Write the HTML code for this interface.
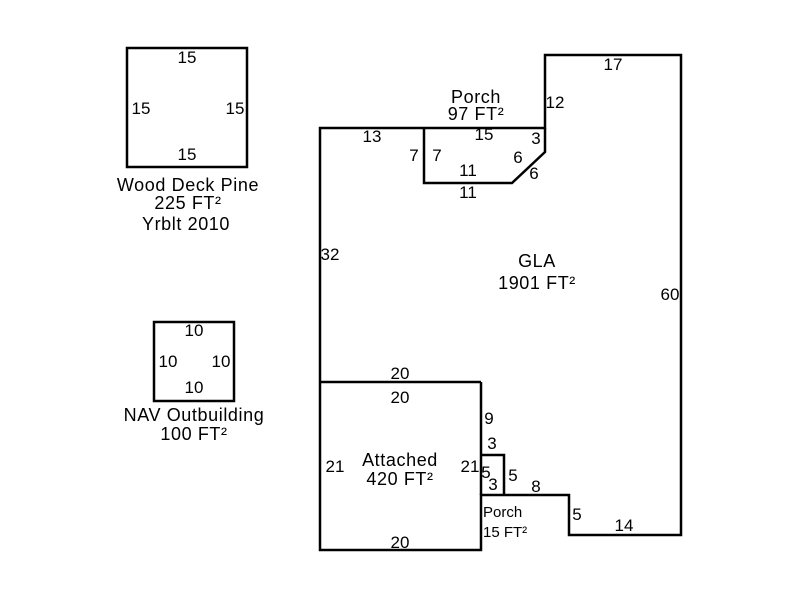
<!DOCTYPE html>
<html><head><style>
body{margin:0;background:#fff}
svg text{font-family:"Liberation Sans",Arial,sans-serif;font-size:17px;fill:#000}
svg text.l{font-size:18px;letter-spacing:0.6px}
</style></head><body>
<svg width="800" height="600" viewBox="0 0 800 600" xmlns="http://www.w3.org/2000/svg">
<g fill="none" stroke="#000" stroke-width="2.5">
<rect x="127" y="48" width="120" height="119"/>
<rect x="154" y="322" width="80" height="79"/>
<polygon points="320,128 545,128 545,55 681,55 681,535 569,535 569,495 481,495 481,550 320,550"/>
<line x1="320" y1="382" x2="481" y2="382"/>
<line x1="481" y1="382" x2="481" y2="495"/>
<polyline points="424,128 424,183 512,183 545,152 545,128"/>
<polyline points="481,455 504,455 504,495"/>
</g>
<g text-anchor="middle">
<text x="187" y="63">15</text>
<text x="141" y="114">15</text>
<text x="235" y="114">15</text>
<text x="187" y="160">15</text>
<text class="l" x="188" y="191">Wood Deck Pine</text>
<text class="l" x="188" y="209">225 FT²</text>
<text class="l" x="186" y="230">Yrblt 2010</text>
<text x="194" y="336">10</text>
<text x="168" y="367">10</text>
<text x="221" y="367">10</text>
<text x="194" y="393">10</text>
<text class="l" x="194" y="421">NAV Outbuilding</text>
<text class="l" x="194" y="440">100 FT²</text>
<text class="l" x="476" y="103">Porch</text>
<text class="l" x="476" y="120">97 FT²</text>
<text x="613" y="70">17</text>
<text x="555" y="108">12</text>
<text x="372" y="142">13</text>
<text x="484" y="140">15</text>
<text x="536" y="144">3</text>
<text x="414" y="161">7</text>
<text x="437" y="161">7</text>
<text x="518" y="163">6</text>
<text x="534" y="179">6</text>
<text x="468" y="176">11</text>
<text x="468" y="198">11</text>
<text class="l" x="537" y="267">GLA</text>
<text class="l" x="537" y="289">1901 FT²</text>
<text x="330" y="260">32</text>
<text x="670" y="300">60</text>
<text x="400" y="379">20</text>
<text x="400" y="403">20</text>
<text x="489" y="424">9</text>
<text x="492" y="449">3</text>
<text x="335" y="472">21</text>
<text class="l" x="400" y="466">Attached</text>
<text class="l" x="400" y="485">420 FT²</text>
<text x="470" y="472">21</text>
<text x="486" y="478">5</text>
<text x="513" y="481">5</text>
<text x="493" y="490">3</text>
<text x="536" y="492">8</text>
<text x="577" y="520">5</text>
<text x="624" y="531">14</text>
<text x="400" y="548">20</text>
</g>
<text x="483" y="517" style="font-size:15px">Porch</text>
<text x="483" y="537" style="font-size:15px">15 FT²</text>
</svg>
</body></html>
